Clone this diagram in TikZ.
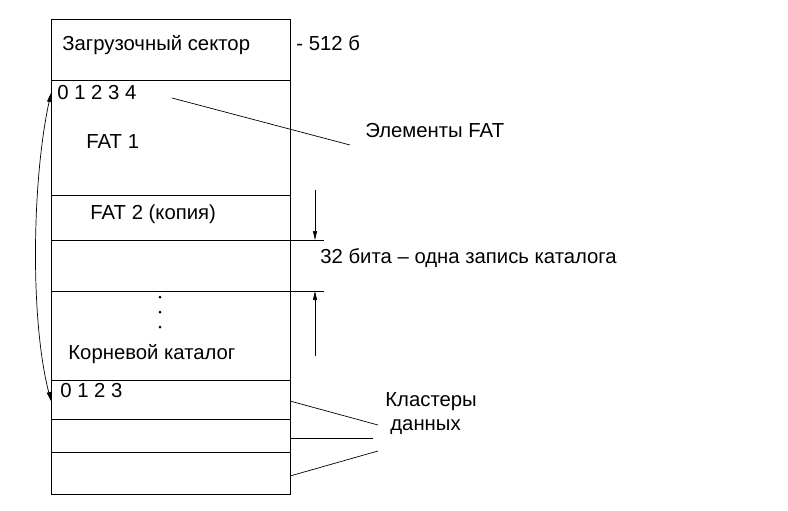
\documentclass[tikz,border=0pt]{standalone}
\usepackage{fontspec}
\setmainfont{Liberation Sans}
\usetikzlibrary{arrows.meta}
\begin{document}
\begin{tikzpicture}[x=1pt,y=-1pt,line width=0.8pt,
  lbl/.style={anchor=west,inner sep=0pt,text height=14.6pt,text depth=0pt,font=\fontsize{20.3}{23}\selectfont},
  tip/.style={-{Triangle[length=9pt,width=4pt]}},
  tips/.style={{Triangle[length=9pt,width=4pt]}-{Triangle[length=9pt,width=4pt]}},
  lead/.style={line width=0.7pt}]
\useasboundingbox (0,0) rectangle (788,511);
% main column
\draw (51,19) rectangle (290,494);
\draw (51,80) -- (290,80);
\draw (51,195) -- (290,195);
\draw (51,240) -- (324,240);
\draw (51,291) -- (324,291);
\draw (51,380) -- (290,380);
\draw (51,419) -- (290,419);
\draw (51,452) -- (290,452);
% texts
\node[lbl] (boot) at (62,43) {Загрузочный сектор};
\node[lbl] (size) at (296,43) {- 512 б};
\node[lbl] (idx) at (57,92) {0 1 2 3 4};
\node[lbl] (fat1) at (86,141) {FAT 1};
\node[lbl] (fat2) at (90,212) {FAT 2 (копия)};
\node[lbl] (root) at (68,352) {Корневой каталог};
\node[lbl] (cidx) at (60,390) {0 1 2 3};
\node[lbl] (elem) at (365,130) {Элементы FAT};
\node[lbl] (rec) at (320,256) {32 бита – одна запись каталога};
\node[lbl] (cl1) at (385,399) {Кластеры};
\node[lbl] (cl2) at (390,423) {данных};
% dots
\foreach \yy in {297,312,327} \fill (160,\yy) circle (1.5pt);
% coordinates
\coordinate (e0) at (172,98);
\coordinate (e1) at (350,145);
\coordinate (d0) at (315,190);
\coordinate (d1) at (315,240);
\coordinate (d2) at (315,291);
\coordinate (d3) at (315,356);
\coordinate (c1a) at (290,401);
\coordinate (c1b) at (378,425);
\coordinate (c2a) at (290,438);
\coordinate (c2b) at (373,438);
\coordinate (c3a) at (290,476);
\coordinate (c3b) at (378,451);
\coordinate (ft) at (51,93);
\coordinate (fb) at (51,401);
% leaders
\draw[lead] (e0) -- (e1);
\draw[lead] (c1a) -- (c1b);
\draw[lead] (c2a) -- (c2b);
\draw[lead] (c3a) -- (c3b);
% dimension
\draw[lead,tip] (d0) -- (d1);
\draw[lead,tip] (d3) -- (d2);
% curved double arrow
\draw[lead,tips] (ft) .. controls (32,180) and (30,320) .. (fb);
\end{tikzpicture}
\end{document}
